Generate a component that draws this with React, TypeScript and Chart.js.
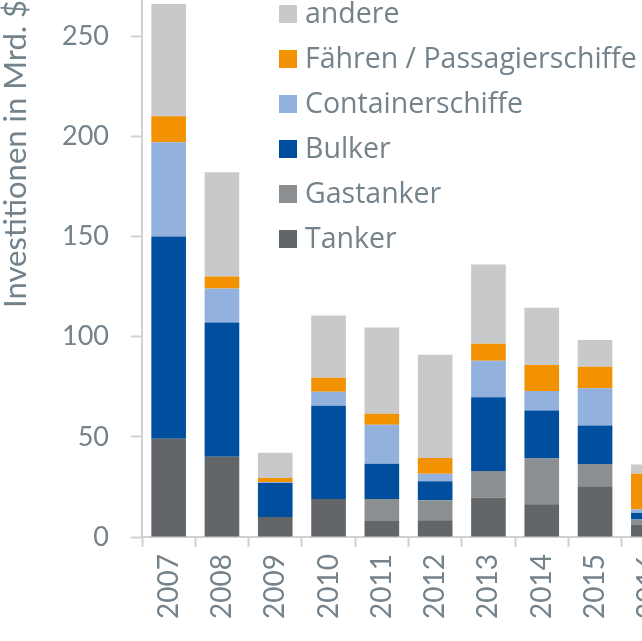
import React, { useEffect, useRef } from "react";
import { Chart, registerables } from "chart.js";

Chart.register(...registerables);

const years = ["2007", "2008", "2009", "2010", "2011", "2012", "2013", "2014", "2015", "2016"];
const tanker = [49, 40, 10, 19, 8, 8.3, 19.6, 16.4, 25.3, 6];
const gastanker = [0, 0, 0, 0, 11, 10, 13.3, 22.8, 11.1, 2.7];
const bulker = [101, 67, 17, 46.5, 17.5, 9.5, 36.9, 23.9, 19.3, 3.3];
const container = [47, 17, 0.5, 7, 19.5, 3.8, 18.2, 9.8, 18.5, 1.8];
const faehren = [13, 6, 2, 7, 5.5, 7.8, 8.4, 13, 10.8, 17.8];
const andere = [56, 52, 12.5, 31, 43, 51.6, 39.6, 28.5, 13.3, 4.6];

const seriesLabels = ["Tanker", "Gastanker", "Bulker", "Containerschiffe", "Fähren / Passagierschiffe", "andere"];
const seriesColors = ["#636669", "#8c8f92", "#004f9f", "#92b1dc", "#f39200", "#c8c9ca"];
const yTitle = "Investitionen in Mrd. $";

const TEXT = "#74828b";
const LINE = "#cfd1d2";
const FONT = "Lato, 'Open Sans', sans-serif";
const LEGEND_FONT = "'Open Sans', Lato, sans-serif";

const legendPlugin = {
  id: "innerLegend",
  afterDraw(chart: any) {
    const ctx = chart.ctx;
    const ds = chart.data.datasets;
    ctx.save();
    ctx.font = `28.5px ${LEGEND_FONT}`;
    ctx.textBaseline = "middle";
    ctx.textAlign = "left";
    const x0 = 279;
    const y0 = 14;
    const step = 45;
    for (let i = 0; i < ds.length; i++) {
      const d = ds[ds.length - 1 - i];
      const cy = y0 + i * step;
      ctx.fillStyle = d.backgroundColor;
      ctx.fillRect(x0, cy - 9, 18, 18);
      ctx.fillStyle = TEXT;
      ctx.fillText(d.label, x0 + 26, cy + 1);
    }
    ctx.restore();
  },
};

export default function App() {
  const ref = useRef<HTMLCanvasElement>(null);
  useEffect(() => {
    if (!ref.current) return;
    const series = [tanker, gastanker, bulker, container, faehren, andere];
    const chart = new Chart(ref.current, {
      type: "bar",
      data: {
        labels: years,
        datasets: series.map((s, i) => ({
          label: seriesLabels[i],
          data: s,
          backgroundColor: seriesColors[i],
          borderWidth: 0,
          barPercentage: 0.65,
          categoryPercentage: 1,
        })),
      },
      options: {
        animation: false,
        responsive: true,
        maintainAspectRatio: false,
        layout: { padding: { left: 0, top: 0, right: 25, bottom: 0 } },
        plugins: { legend: { display: false }, tooltip: { enabled: false } },
        scales: {
          x: {
            stacked: true,
            offset: true,
            grid: {
              offset: true,
              drawOnChartArea: false,
              drawTicks: true,
              tickLength: 10,
              tickWidth: 2,
              tickColor: LINE,
            },
            border: { color: LINE, width: 2 },
            ticks: {
              minRotation: 90,
              maxRotation: 90,
              padding: 7,
              color: TEXT,
              font: { family: FONT, size: 28 },
            },
            afterFit(scale: any) {
              scale.height = 104;
              scale.paddingLeft = 0;
              scale.paddingRight = 0;
            },
          },
          y: {
            stacked: true,
            min: 0,
            max: 268,
            grid: {
              drawOnChartArea: false,
              drawTicks: true,
              tickLength: 11,
              tickWidth: 2,
              tickColor: LINE,
            },
            border: { color: LINE, width: 2 },
            ticks: {
              stepSize: 50,
              includeBounds: false,
              padding: 22,
              color: TEXT,
              font: { family: FONT, size: 27 },
            },
            title: {
              display: true,
              text: yTitle,
              align: "end",
              color: TEXT,
              font: { family: FONT, size: 31, lineHeight: 1.04 },
              padding: { top: 0, bottom: 0 },
            },
            afterFit(scale: any) {
              scale.width = 142;
              scale.paddingTop = 0;
              scale.paddingBottom = 0;
            },
          },
        },
      },
      plugins: [legendPlugin],
    });
    return () => chart.destroy();
  }, []);

  return (
    <div style={{ position: "fixed", left: 0, top: 0, width: 642, height: 641, overflow: "hidden", background: "#fff" }}>
      <div style={{ position: "absolute", left: 0, top: 0, width: 700, height: 641 }}>
        <canvas ref={ref} />
      </div>
    </div>
  );
}
